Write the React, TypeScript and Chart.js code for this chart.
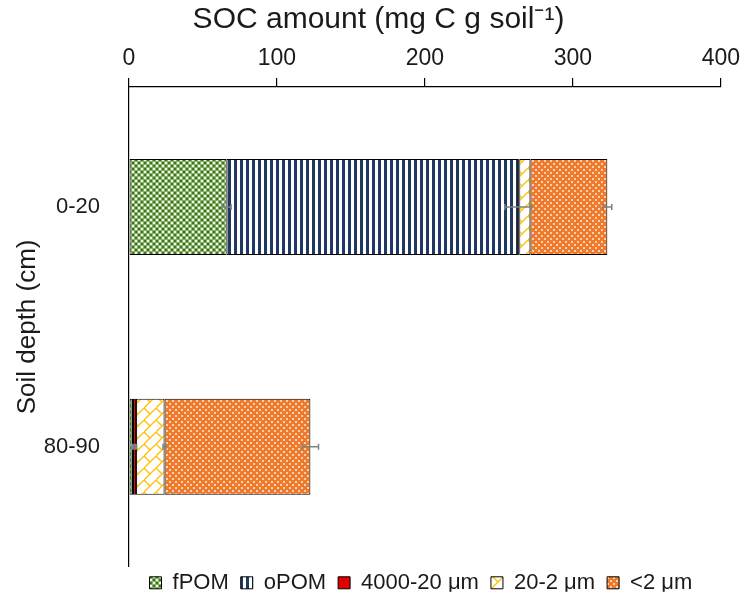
import React, { useEffect, useRef } from "react";
import { Chart, registerables } from "chart.js";

Chart.register(...registerables);

// ---------- data ----------
const categories = ["0-20", "80-90"];
const seriesNames = ["fPOM", "oPOM", "4000-20 μm", "20-2 μm", "<2 μm"];
const fPOM = [66, 2.7];
const oPOM = [197, 0];
const coarse = [0.8, 2.0];
const silt = [7.5, 19.3];
const clay = [52, 98.6];
const fPOMErr = [3, 0.5];
const oPOMErr = [9, 0];
const coarseErr = [0, 0.5];
const siltErr = [0, 1];
const clayErr = [3, 5.5];
const xTickValues = [0, 100, 200, 300, 400];
const xTitle = "SOC amount (mg C g soil⁻¹)";
const yTitle = "Soil depth (cm)";

const seriesValues = [fPOM, oPOM, coarse, silt, clay];
const seriesErrors = [fPOMErr, oPOMErr, coarseErr, siltErr, clayErr];

const FONT = "Liberation Sans, Arial, sans-serif";

function makePattern(w: number, h: number, draw: (g: CanvasRenderingContext2D) => void) {
  const c = document.createElement("canvas");
  c.width = w;
  c.height = h;
  const g = c.getContext("2d")!;
  draw(g);
  return g.createPattern(c, "repeat")!;
}

function buildPatterns() {
  const green = makePattern(6, 6, (g) => {
    g.fillStyle = "#86b166";
    g.fillRect(0, 0, 6, 6);
    g.fillStyle = "#3f7427";
    g.fillRect(0, 0, 2, 2);
    g.fillRect(3, 3, 2, 2);
    g.fillStyle = "#f2f9ec";
    g.fillRect(3, 0, 2, 2);
    g.fillRect(0, 3, 2, 2);
  });
  const stripes = makePattern(6, 1, (g) => {
    g.fillStyle = "#ffffff";
    g.fillRect(0, 0, 6, 1);
    g.fillStyle = "#1f3864";
    g.fillRect(0, 0, 3, 1);
  });
  const red = "#e00000";
  const zig = makePattern(12, 12, (g) => {
    g.fillStyle = "#ffffff";
    g.fillRect(0, 0, 12, 12);
    g.strokeStyle = "#ffc000";
    g.lineWidth = 1.3;
    g.beginPath();
    g.moveTo(0, 12);
    g.lineTo(12, 0);
    g.moveTo(0, 0);
    g.lineTo(6, 6);
    g.stroke();
  });
  const dots = makePattern(6, 6, (g) => {
    g.fillStyle = "#ef7a2c";
    g.fillRect(0, 0, 6, 6);
    g.fillStyle = "#fbd2b4";
    g.fillRect(1, 1, 2, 2);
    g.fillRect(4, 4, 2, 2);
  });
  return [green, stripes, red, zig, dots];
}

const errorBarPlugin = {
  id: "errorBars",
  afterDatasetsDraw(chart: any) {
    const ctx = chart.ctx as CanvasRenderingContext2D;
    const xs = chart.scales.x;
    ctx.save();
    ctx.strokeStyle = "#808080";
    ctx.lineWidth = 1.5;
    chart.data.datasets.forEach((ds: any, i: number) => {
      const meta = chart.getDatasetMeta(i);
      meta.data.forEach((bar: any, j: number) => {
        const err = seriesErrors[i][j];
        if (!err) return;
        let cum = 0;
        for (let k = 0; k <= i; k++) cum += chart.data.datasets[k].data[j];
        const x0 = xs.getPixelForValue(cum - err);
        const x1 = xs.getPixelForValue(cum + err);
        const y = bar.y;
        ctx.beginPath();
        ctx.moveTo(x0, y);
        ctx.lineTo(x1, y);
        ctx.moveTo(x0, y - 3);
        ctx.lineTo(x0, y + 3);
        ctx.moveTo(x1, y - 3);
        ctx.lineTo(x1, y + 3);
        ctx.stroke();
      });
    });
    ctx.restore();
  },
};

const layoutTweakPlugin = {
  id: "layoutTweak",
  afterLayout(chart: any) {
    if (chart.legend) {
      chart.legend.top -= 7;
      chart.legend.bottom -= 7;
      chart.legend.left -= 4;
      chart.legend.right -= 4;
    }
    if (chart.titleBlock) {
      chart.titleBlock.left += 17;
      chart.titleBlock.right += 17;
    }
  },
};

export default function App() {
  const ref = useRef<HTMLCanvasElement | null>(null);
  useEffect(() => {
    if (!ref.current) return;
    const fills = buildPatterns();
    const chart = new Chart(ref.current, {
      type: "bar",
      data: {
        labels: categories,
        datasets: seriesNames.map((name, i) => ({
          label: name,
          data: seriesValues[i],
          backgroundColor: fills[i] as any,
          borderColor: "#000000",
          borderWidth: 1,
          borderSkipped: false,
          barPercentage: 0.4,
          categoryPercentage: 1.0,
        })),
      },
      options: {
        indexAxis: "y",
        animation: false,
        responsive: false,
        devicePixelRatio: 1,
        layout: { padding: { left: 0, right: 23, top: 0, bottom: 0 } },
        scales: {
          x: {
            type: "linear",
            position: "top",
            stacked: true,
            min: 0,
            max: 400,
            afterBuildTicks: (s: any) => {
              s.ticks = xTickValues.map((v) => ({ value: v }));
            },
            ticks: {
              font: { family: FONT, size: 23 },
              color: "#1a1a1a",
              padding: 6,
            },
            grid: {
              drawOnChartArea: false,
              drawTicks: true,
              tickLength: 9,
              color: "#000000",
              lineWidth: 1.2,
            },
            border: { display: true, color: "#000000", width: 1.2 },
            title: { display: false },
            afterFit: (s: any) => {
              s.height = 49;
            },
          },
          y: {
            stacked: true,
            grid: { display: false },
            border: { display: true, color: "#000000", width: 1.2 },
            ticks: {
              font: { family: FONT, size: 22 },
              color: "#1a1a1a",
              padding: 21,
            },
            title: {
              display: true,
              text: yTitle,
              font: { family: FONT, size: 26 },
              color: "#1a1a1a",
              padding: { top: 12, bottom: 0 },
            },
            afterFit: (s: any) => {
              s.width = 129;
            },
          },
        },
        plugins: {
          title: {
            display: true,
            text: xTitle,
            position: "top",
            color: "#1a1a1a",
            font: { family: FONT, size: 30, weight: "normal" },
            padding: { top: 2, bottom: 0 },
          },
          legend: {
            position: "bottom",
            fullSize: false,
            maxHeight: 32,
            labels: {
              boxWidth: 12,
              boxHeight: 12,
              padding: 12,
              color: "#1a1a1a",
              font: { family: FONT, size: 22 },
            },
          },
          tooltip: { enabled: false },
        },
      },
      plugins: [errorBarPlugin, layoutTweakPlugin],
    });
    return () => chart.destroy();
  }, []);
  return (
    <div style={{ position: "absolute", left: 0, top: 0, width: 746, height: 601, background: "#fff" }}>
      <canvas ref={ref} width={746} height={601} />
    </div>
  );
}
